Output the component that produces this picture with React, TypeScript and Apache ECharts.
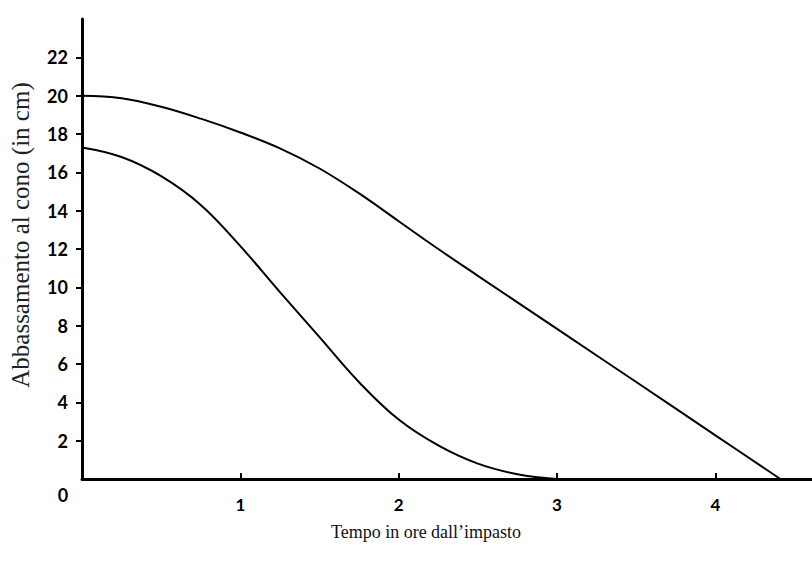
import React, { useEffect, useRef } from "react";
import * as echarts from "echarts";

const upperX = [0, 0.25, 0.5, 0.75, 1.0, 1.25, 1.5, 1.75, 2.0, 2.25, 2.5, 3.0, 3.5, 4.0, 4.41];
const upperY = [20, 19.87, 19.42, 18.8, 18.08, 17.25, 16.2, 14.9, 13.45, 12.0, 10.6, 7.83, 5.06, 2.28, 0];
const lowerX = [0, 0.25, 0.5, 0.75, 1.0, 1.25, 1.5, 1.75, 2.0, 2.25, 2.5, 2.75, 3.0];
const lowerY = [17.3, 16.8, 15.8, 14.3, 12.15, 9.75, 7.4, 5.05, 3.1, 1.75, 0.8, 0.25, 0];
const xTicks = [1, 2, 3, 4];
const yTicks = [2, 4, 6, 8, 10, 12, 14, 16, 18, 20, 22];
const xTitle = "Tempo in ore dall\u2019impasto";
const yTitle = "Abbassamento al cono (in cm)";
const originLabel = "0";

export default function App() {
  const ref = useRef<HTMLDivElement>(null);
  useEffect(() => {
    if (!ref.current) return;
    const chart = echarts.init(ref.current, null, { renderer: "svg" });
    const lineStyle = { color: "#000", width: 2 };
    chart.setOption({
      animation: false,
      backgroundColor: "#fff",
      grid: { left: 82, right: 0, top: 19, bottom: 104, containLabel: false },
      xAxis: {
        type: "value",
        min: 0,
        max: 4.61,
        interval: 1,
        splitLine: { show: false },
        axisLine: { show: true, onZero: false, lineStyle: { color: "#000", width: 3 } },
        axisTick: { show: true, inside: true, length: 6, customValues: xTicks, lineStyle: { color: "#000", width: 2 } },
        axisLabel: {
          customValues: xTicks,
          margin: 17,
          color: "#000",
          fontFamily: "Lato",
          fontWeight: "bold",
          fontSize: 17,
        },
      },
      yAxis: {
        type: "value",
        min: 0,
        max: 24,
        interval: 2,
        splitLine: { show: false },
        axisLine: { show: true, onZero: false, lineStyle: { color: "#000", width: 3 } },
        axisTick: { show: true, inside: false, length: 6, customValues: yTicks, lineStyle: { color: "#000", width: 2 } },
        axisLabel: {
          customValues: yTicks,
          margin: 14,
          color: "#000",
          fontFamily: "Lato",
          fontWeight: "bold",
          fontSize: 18,
        },
      },
      graphic: [
        {
          type: "text",
          x: 20,
          y: 235,
          rotation: Math.PI / 2,
          style: {
            text: yTitle,
            fontFamily: "Liberation Serif",
            fontSize: 25,
            fill: "#222",
            align: "center",
            verticalAlign: "middle",
          },
        },
        {
          type: "text",
          x: 426,
          y: 532,
          style: {
            text: xTitle,
            fontFamily: "Liberation Serif",
            fontSize: 18,
            fill: "#111",
            align: "center",
            verticalAlign: "middle",
          },
        },
        {
          type: "text",
          x: 63,
          y: 495,
          style: {
            text: originLabel,
            fontFamily: "Lato",
            fontWeight: "bold",
            fontSize: 18,
            fill: "#000",
            align: "center",
            verticalAlign: "middle",
          },
        },
      ],
      series: [
        {
          type: "line",
          data: upperX.map((x, i) => [x, upperY[i]]),
          smooth: 0.4,
          showSymbol: false,
          lineStyle,
        },
        {
          type: "line",
          data: lowerX.map((x, i) => [x, lowerY[i]]),
          smooth: 0.4,
          showSymbol: false,
          lineStyle,
        },
      ],
    });
    return () => chart.dispose();
  }, []);
  return <div ref={ref} style={{ width: 812, height: 583, position: "absolute", left: 0, top: 0 }} />;
}
